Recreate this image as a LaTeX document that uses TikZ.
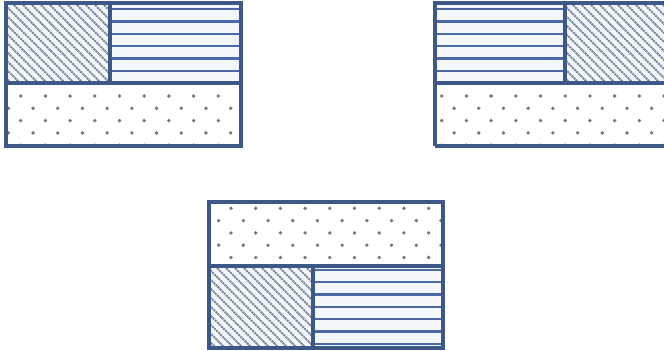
\documentclass[tikz,border=0pt]{standalone}
\usepackage{tikz}
\usetikzlibrary{calc}
\definecolor{paBorder}{HTML}{3D5887}
\definecolor{paStripe}{HTML}{4C69A3}
\definecolor{paHatch}{HTML}{7B879C}
\definecolor{paDot}{HTML}{6F798C}
\definecolor{paPale}{HTML}{F3F7FC}
\tikzset{
  frame/.style={draw=paBorder, line width=2.6pt},
  stripe/.style={draw=paStripe, line width=1.7pt},
  hatch/.style={draw=paHatch, line width=1.5pt, dash pattern=on 1.6pt off 0.6pt},
  dotmark/.style={fill=paDot},
  region/.style={fill=paPale}
}
% diagonal hatch in box (x1,y1)-(x2,y2)
\newcommand{\fillHatch}[4]{%
  \fill[region] (#1,#2) rectangle (#3,#4);
  \begin{scope}
    \clip (#1,#2) rectangle (#3,#4);
    \foreach \c in {-102,-93,...,120}
      \draw[hatch] ({#1+\c},#2) -- ++(100,100);
  \end{scope}}
% horizontal stripes: #5 first offset below the top, #6 last index
\newcommand{\fillStripes}[6]{%
  \fill[region] (#1,#2) rectangle (#3,#4);
  \begin{scope}
    \clip (#1,#2) rectangle (#3,#4);
    \foreach \k in {0,...,#6}
      \draw[stripe] (#1,{#2+#5+12.3*\k}) -- (#3,{#2+#5+12.3*\k});
  \end{scope}}
% staggered dots, offsets #5 (x) and #6 (y) of the first row
\newcommand{\fillDots}[6]{%
  \fill[white] (#1,#2) rectangle (#3,#4);
  \begin{scope}
    \clip (#1,#2) rectangle (#3,#4);
    \foreach \r in {0,...,6}{
      \pgfmathsetmacro{\sx}{mod(\r,2)==0 ? #5 : #5-12.35}
      \foreach \i in {0,...,11}
        \fill[dotmark] ({#1+\sx+24.7*\i},{#2+#6+12.3*\r}) circle (1.9);
    }
  \end{scope}}

\begin{document}
\begin{tikzpicture}[x=0.75pt,y=-0.75pt]
  \useasboundingbox (0,0) rectangle (664,350);
  % top left
  \fillHatch{6}{3}{110}{83}
  \fillStripes{110}{3}{241}{83}{6.3}{5}
  \fillDots{6}{83}{241}{146}{14.7}{13}
  \draw[frame] (6,3) rectangle (241,146);
  \draw[frame] (6,83) -- (241,83);
  \draw[frame] (110,3) -- (110,83);
  % top right
  \fillStripes{435}{3}{565}{83}{6.3}{5}
  \fillHatch{565}{3}{664}{83}
  \fillDots{435}{83}{664}{146}{6.7}{13}
  \draw[frame] (435,146) -- (435,3) -- (664,3);
  \draw[frame] (435,146) -- (664,146);
  \draw[frame] (435,83) -- (664,83);
  \draw[frame] (565,3) -- (565,83);
  % bottom
  \fillDots{209}{202}{443}{266}{22}{6.3}
  \fillHatch{209}{266}{313}{348}
  \fillStripes{313}{266}{443}{348}{4}{6}
  \draw[frame] (209,202) rectangle (443,348);
  \draw[frame] (209,266) -- (443,266);
  \draw[frame] (313,266) -- (313,348);
\end{tikzpicture}
\end{document}
